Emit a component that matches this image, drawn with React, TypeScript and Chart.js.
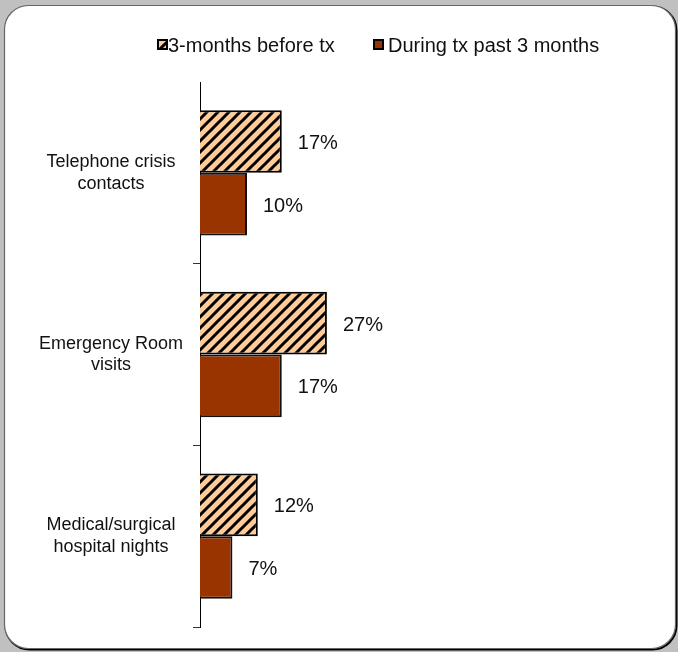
import React, { useEffect, useRef } from 'react';
import { Chart, registerables } from 'chart.js';

Chart.register(...registerables);

const categories: string[][] = [
  ['Telephone crisis', 'contacts'],
  ['Emergency Room', 'visits'],
  ['Medical/surgical', 'hospital nights'],
];
const seriesNames: string[] = ['3-months before tx', 'During tx past 3 months'];
const beforeValues: number[] = [17.4, 27.0, 12.3];
const duringValues: number[] = [10.0, 17.4, 6.9];

const FONT = '"Liberation Sans", Arial, sans-serif';
const W = 678;
const H = 652;

function makeHatch(): CanvasPattern | string {
  const c = document.createElement('canvas');
  c.width = 11;
  c.height = 11;
  const g = c.getContext('2d');
  if (!g) return '#FFCC99';
  g.fillStyle = '#FFCC99';
  g.fillRect(0, 0, 11, 11);
  g.strokeStyle = '#000';
  g.lineWidth = 3;
  g.beginPath();
  g.moveTo(-2, 13);
  g.lineTo(13, -2);
  g.moveTo(-2, 2);
  g.lineTo(2, -2);
  g.moveTo(9, 13);
  g.lineTo(13, 9);
  g.stroke();
  return g.createPattern(c, 'repeat') || '#FFCC99';
}

function roundRectPath(ctx: CanvasRenderingContext2D, x: number, y: number, w: number, h: number, r: number) {
  ctx.beginPath();
  ctx.moveTo(x + r, y);
  ctx.lineTo(x + w - r, y);
  ctx.arcTo(x + w, y, x + w, y + r, r);
  ctx.lineTo(x + w, y + h - r);
  ctx.arcTo(x + w, y + h, x + w - r, y + h, r);
  ctx.lineTo(x + r, y + h);
  ctx.arcTo(x, y + h, x, y + h - r, r);
  ctx.lineTo(x, y + r);
  ctx.arcTo(x, y, x + r, y, r);
  ctx.closePath();
}

export default function App() {
  const ref = useRef<HTMLCanvasElement | null>(null);

  useEffect(() => {
    document.body.style.margin = '0';
    const canvas = ref.current;
    if (!canvas) return;
    const hatch = makeHatch();
    const solid = '#993300';

    const framePlugin = {
      id: 'frame',
      beforeDraw(chart: any) {
        const ctx: CanvasRenderingContext2D = chart.ctx;
        ctx.save();
        ctx.fillStyle = '#c0c0c0';
        ctx.fillRect(0, 0, W, H);
        roundRectPath(ctx, 5.5, 6.5, 671, 643, 24);
        ctx.strokeStyle = '#000';
        ctx.lineWidth = 2;
        ctx.stroke();
        roundRectPath(ctx, 4.5, 5.5, 671, 643, 24);
        ctx.fillStyle = '#fff';
        ctx.fill();
        ctx.strokeStyle = '#666';
        ctx.lineWidth = 1.2;
        ctx.stroke();
        ctx.restore();
      },
    };

    const legendPlugin = {
      id: 'customLegend',
      afterDraw(chart: any) {
        const ctx: CanvasRenderingContext2D = chart.ctx;
        ctx.save();
        ctx.font = `20px ${FONT}`;
        ctx.textBaseline = 'middle';
        ctx.textAlign = 'left';
        const items = [
          { x: 157, fill: hatch, label: chart.data.datasets[0].label, tx: 168 },
          { x: 373, fill: solid, label: chart.data.datasets[1].label, tx: 388 },
        ];
        items.forEach((it) => {
          ctx.fillStyle = '#000';
          ctx.fillRect(it.x, 39, 11, 11);
          ctx.fillStyle = it.fill as any;
          ctx.fillRect(it.x + 2, 41, 7, 7);
          ctx.fillStyle = '#111';
          ctx.fillText(it.label, it.tx, 46);
        });
        ctx.restore();
      },
    };

    const valueLabelPlugin = {
      id: 'valueLabels',
      afterDatasetsDraw(chart: any) {
        const ctx: CanvasRenderingContext2D = chart.ctx;
        ctx.save();
        ctx.font = `20px ${FONT}`;
        ctx.textBaseline = 'middle';
        ctx.textAlign = 'left';
        ctx.fillStyle = '#111';
        chart.data.datasets.forEach((ds: any, di: number) => {
          const meta = chart.getDatasetMeta(di);
          meta.data.forEach((bar: any, i: number) => {
            const v = ds.data[i] as number;
            ctx.fillText(`${Math.round(v)}%`, bar.x + 16, bar.y + 2);
          });
        });
        ctx.restore();
      },
    };

    const chart = new Chart(canvas, {
      type: 'bar',
      data: {
        labels: categories,
        datasets: [
          {
            label: seriesNames[0],
            data: beforeValues,
            backgroundColor: hatch as any,
            borderColor: '#000',
            borderWidth: 2,
            categoryPercentage: 0.69,
            barPercentage: 1,
          },
          {
            label: seriesNames[1],
            data: duringValues,
            backgroundColor: solid,
            borderColor: '#111',
            borderWidth: 2,
            categoryPercentage: 0.69,
            barPercentage: 1,
          },
        ],
      },
      options: {
        indexAxis: 'y',
        responsive: false,
        animation: false,
        devicePixelRatio: 1,
        layout: { padding: { top: 82, bottom: 25, left: 20, right: 8 } },
        plugins: {
          legend: { display: false },
          tooltip: { enabled: false },
        },
        scales: {
          x: {
            display: false,
            min: 0,
            max: 100,
          },
          y: {
            afterFit(scale: any) {
              scale.width = 180;
              scale.paddingTop = 0;
              scale.paddingBottom = 0;
            },
            grid: {
              offset: true,
              drawOnChartArea: false,
              drawTicks: true,
              tickLength: 7,
              color: (ctx: any) => (ctx.index === 0 ? 'rgba(0,0,0,0)' : '#333'),
              lineWidth: 1,
            },
            border: { display: true, color: '#000', width: 1 },
            ticks: {
              crossAlign: 'center',
              padding: 10,
              color: '#111',
              font: { family: FONT, size: 18 },
            },
          },
        },
      },
      plugins: [framePlugin, legendPlugin, valueLabelPlugin],
    } as any);

    return () => {
      chart.destroy();
    };
  }, []);

  return (
    <div style={{ width: W, height: H }}>
      <canvas ref={ref} width={W} height={H} style={{ display: 'block', width: W, height: H }} />
    </div>
  );
}
